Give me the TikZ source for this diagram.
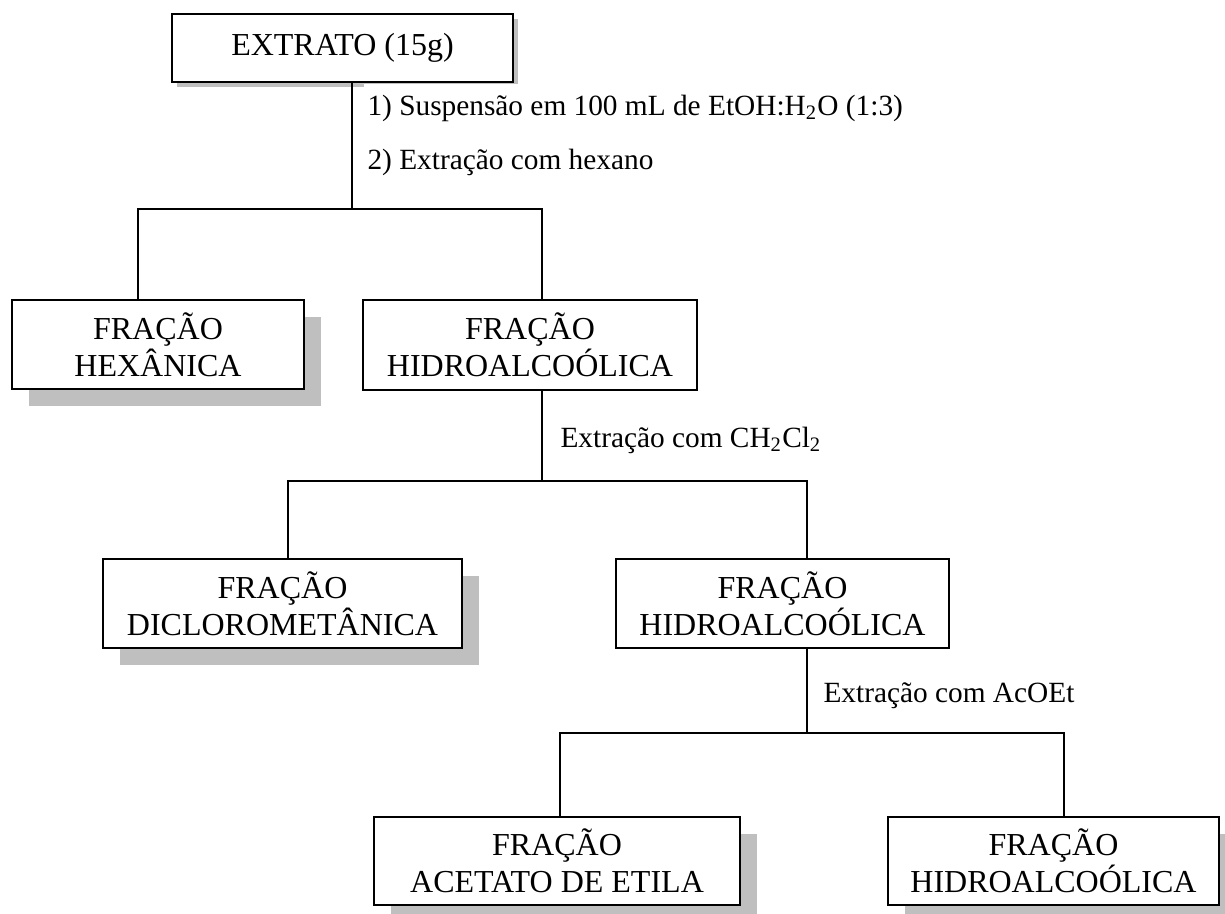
\documentclass[tikz,border=0pt]{standalone}
\usepackage{fontspec}
\setmainfont{Liberation Serif}
\usetikzlibrary{shadows}

\begin{document}
\begin{tikzpicture}[
    x=0.375pt, y=-0.375pt,
    fracao/.style={draw, fill=white, line width=0.75pt, inner sep=0pt, align=center, font=\fontsize{12}{13.8}\selectfont},
    sombra/.style={drop shadow={shadow xshift=6.4pt, shadow yshift=-6.4pt, fill=black!25, opacity=1}},
    rotulo/.style={anchor=base west, inner sep=0pt, font=\fontsize{11}{13}\selectfont},
    linha/.style={line width=0.75pt}
]
\useasboundingbox (0,0) rectangle (1225,914);
\clip (0,0) rectangle (1225,914);

\node[fracao, minimum width=127.9pt, minimum height=25.5pt, drop shadow={shadow xshift=1.9pt, shadow yshift=-1.9pt, fill=black!25, opacity=1}] (extrato) at (342.5,48) {EXTRATO (15g)};
\node[fracao, sombra, minimum width=109.5pt, minimum height=33.4pt] (hexanica) at (158,344.5) {FRAÇÃO\\HEXÂNICA};
\node[fracao, minimum width=125.3pt, minimum height=33.8pt] (hidro1) at (530,345) {FRAÇÃO\\HIDROALCOÓLICA};
\node[fracao, sombra, minimum width=134.6pt, minimum height=33.4pt] (dicloro) at (282.5,603.5) {FRAÇÃO\\DICLOROMETÂNICA};
\node[fracao, minimum width=124.9pt, minimum height=33.4pt] (hidro2) at (782.5,603.5) {FRAÇÃO\\HIDROALCOÓLICA};
\node[fracao, sombra, minimum width=137.3pt, minimum height=33pt] (acetato) at (557,861) {FRAÇÃO\\ACETATO DE ETILA};
\node[fracao, sombra, minimum width=124.1pt, minimum height=33pt] (hidro3) at (1053.5,861) {FRAÇÃO\\HIDROALCOÓLICA};

\node[rotulo, fill=white, inner xsep=1.5pt, inner ysep=3.8pt, text height=8pt] (passo1) at (363,115) {1) Suspensão em 100 mL de EtOH:H\textsubscript{2}O (1:3)};
\node[rotulo] (passo2) at (367,169) {2) Extração com hexano};
\node[rotulo] (passo3) at (560,447) {Extração com CH\textsubscript{2}Cl\textsubscript{2}};
\node[rotulo] (passo4) at (823,702) {Extração com AcOEt};

\coordinate (t1) at (352,209);
\coordinate (b1) at (138,209);
\coordinate (b2) at (542,209);
\coordinate (c1) at (288,481);
\coordinate (c2) at (807,481);
\coordinate (e1) at (560,733);
\coordinate (e2) at (1064,733);

\draw[linha] (extrato.south -| t1) -- (t1);
\draw[linha] (hexanica.north -| b1) -- (b1) -- (b2) -- (hidro1.north -| b2);
\draw[linha] (hidro1.south -| b2) -- (b2 |- c1);
\draw[linha] (dicloro.north -| c1) -- (c1) -- (c2) -- (hidro2.north -| c2);
\draw[linha] (hidro2.south -| c2) -- (c2 |- e1);
\draw[linha] (acetato.north -| e1) -- (e1) -- (e2) -- (hidro3.north -| e2);
\end{tikzpicture}
\end{document}
